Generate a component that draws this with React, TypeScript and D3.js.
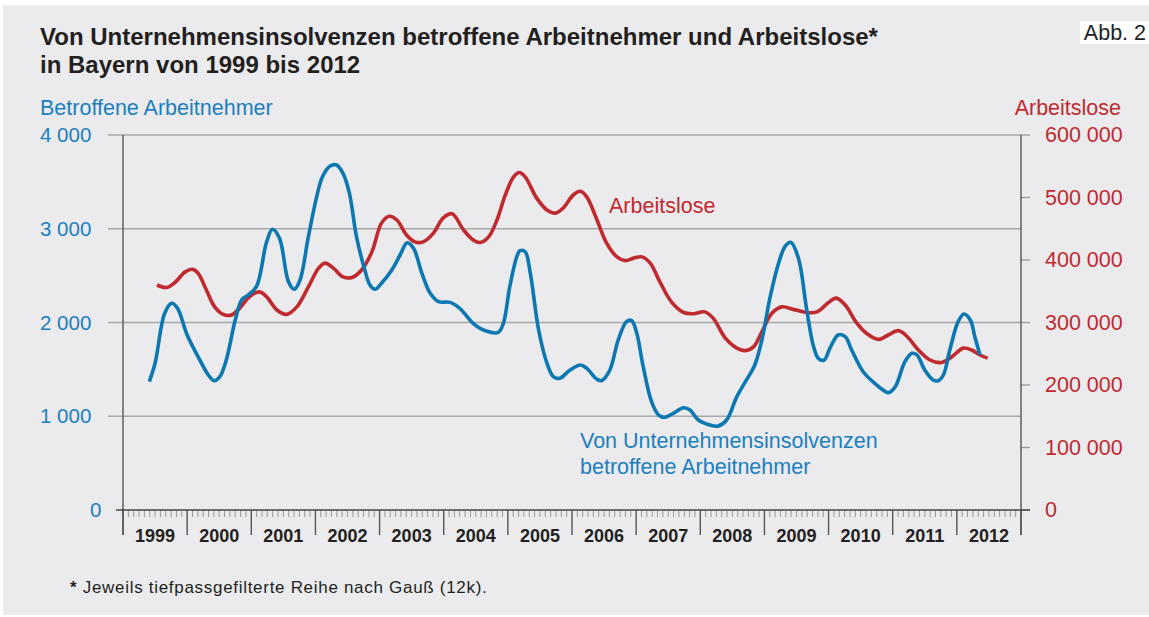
import React, { useEffect, useRef } from 'react';
import * as d3 from 'd3';

// Von Unternehmensinsolvenzen betroffene Arbeitnehmer (linke Achse), Zeit in Dezimaljahren
const blueTime = [
  1999.41, 1999.5, 1999.65, 1999.76, 1999.85, 2000.0, 2000.17, 2000.33, 2000.42, 2000.51,
  2000.61, 2000.75, 2000.85, 2000.95, 2001.08, 2001.24, 2001.33, 2001.44, 2001.58, 2001.67,
  2001.76, 2001.89, 2002.02, 2002.11, 2002.23, 2002.33, 2002.43, 2002.53, 2002.64, 2002.77,
  2002.85, 2002.93, 2003.03, 2003.19, 2003.32, 2003.43, 2003.53, 2003.66, 2003.79, 2003.92,
  2004.1, 2004.25, 2004.46, 2004.62, 2004.85, 2004.93, 2005.03, 2005.14, 2005.19, 2005.27,
  2005.35, 2005.48, 2005.61, 2005.71, 2005.81, 2005.97, 2006.13, 2006.23, 2006.39, 2006.46,
  2006.59, 2006.72, 2006.85, 2006.93, 2007.01, 2007.11, 2007.24, 2007.35, 2007.45, 2007.58,
  2007.74, 2007.84, 2007.97, 2008.15, 2008.28, 2008.41, 2008.57, 2008.72, 2008.85, 2008.96,
  2009.09, 2009.22, 2009.32, 2009.41, 2009.53, 2009.66, 2009.76, 2009.84, 2009.93, 2010.02,
  2010.15, 2010.26, 2010.36, 2010.54, 2010.72, 2010.85, 2010.93, 2011.04, 2011.19, 2011.3,
  2011.38, 2011.5, 2011.63, 2011.71, 2011.79, 2011.89, 2012.02, 2012.11, 2012.21, 2012.28,
  2012.36,
];
const blueValues = [
  1370, 1565, 2098, 2205, 2151, 1867, 1636, 1440, 1379, 1422,
  1600, 2027, 2240, 2293, 2382, 2862, 2994, 2898, 2435, 2354,
  2453, 2915, 3342, 3555, 3669, 3680, 3591, 3378, 2915, 2560,
  2400, 2354, 2418, 2560, 2720, 2851, 2791, 2525, 2311, 2222,
  2215, 2151, 1991, 1920, 1895, 1991, 2382, 2702, 2766, 2755,
  2525, 1920, 1565, 1422, 1405, 1493, 1547, 1511, 1394, 1379,
  1493, 1813, 2009, 2020, 1885, 1529, 1155, 1013, 989, 1031,
  1091, 1067, 960, 907, 896, 960, 1209, 1387, 1547, 1813,
  2275, 2631, 2809, 2855, 2685, 2133, 1760, 1618, 1600, 1725,
  1867, 1849, 1707, 1475, 1351, 1280, 1251, 1315, 1582, 1671,
  1653, 1493, 1387, 1379, 1440, 1707, 2009, 2091, 2027, 1849,
  1653,
];

// Arbeitslose (rechte Achse)
const redTime = [
  1999.53, 1999.68, 1999.81, 1999.97, 2000.09, 2000.17, 2000.3, 2000.43, 2000.56, 2000.69,
  2000.82, 2000.98, 2001.13, 2001.24, 2001.4, 2001.55, 2001.71, 2001.89, 2002.05, 2002.15,
  2002.28, 2002.43, 2002.57, 2002.72, 2002.88, 2003.03, 2003.15, 2003.27, 2003.42, 2003.55,
  2003.68, 2003.84, 2003.99, 2004.13, 2004.31, 2004.46, 2004.57, 2004.7, 2004.83, 2004.96,
  2005.09, 2005.18, 2005.27, 2005.45, 2005.61, 2005.74, 2005.86, 2006.02, 2006.13, 2006.23,
  2006.39, 2006.54, 2006.7, 2006.83, 2006.96, 2007.09, 2007.22, 2007.37, 2007.55, 2007.74,
  2007.89, 2008.07, 2008.2, 2008.39, 2008.57, 2008.7, 2008.83, 2008.96, 2009.11, 2009.27,
  2009.45, 2009.66, 2009.82, 2010.0, 2010.12, 2010.26, 2010.44, 2010.6, 2010.78, 2010.93,
  2011.09, 2011.22, 2011.4, 2011.58, 2011.76, 2011.92, 2012.1, 2012.23, 2012.36, 2012.48,
];
const redValues = [
  360000, 356000, 364000, 381000, 385000, 379000, 352000, 325000, 313000, 312000,
  323000, 342000, 349000, 341000, 320000, 313000, 325000, 357000, 387000, 395000,
  387000, 373000, 372000, 384000, 413000, 459000, 470000, 464000, 440000, 429000,
  429000, 443000, 467000, 474000, 448000, 432000, 428000, 437000, 464000, 504000,
  533000, 540000, 533000, 499000, 480000, 475000, 483000, 504000, 510000, 501000,
  464000, 427000, 405000, 399000, 403000, 405000, 395000, 365000, 333000, 316000,
  314000, 317000, 307000, 275000, 259000, 255000, 261000, 285000, 314000, 325000,
  321000, 316000, 317000, 332000, 339000, 328000, 299000, 282000, 273000, 280000,
  287000, 278000, 256000, 240000, 236000, 245000, 259000, 256000, 248000, 243000,
];

const years = d3.range(1999, 2013);
const leftTicks = [0, 1000, 2000, 3000, 4000];
const rightTicks = [0, 100000, 200000, 300000, 400000, 500000, 600000];

const W = 1149;
const H = 617;
const FONT = '"Liberation Sans", Arial, Helvetica, sans-serif';
const BLUE = '#0b78b1';
const BLUE_TXT = '#1b80bd';
const RED = '#c0292e';
const fmt = (v: number) => d3.format(',')(v).replace(/,/g, ' ');

const App = () => {
  const svgRef = useRef<SVGSVGElement>(null);

  useEffect(() => {
    document.body.style.margin = '0';
    const svg = d3.select(svgRef.current);
    svg.selectAll('*').remove();

    const x = d3.scaleLinear().domain([1999, 2013]).range([123, 1021]);
    const yL = d3.scaleLinear().domain([0, 4000]).range([510, 135]);
    const yR = d3.scaleLinear().domain([0, 600000]).range([510, 135]);

    // background
    svg.append('rect').attr('width', W).attr('height', H).attr('fill', '#fff');
    svg.append('rect').attr('x', 3).attr('y', 5).attr('width', W - 3).attr('height', 610).attr('fill', '#ebebed');

    // Abb. label
    svg.append('rect').attr('x', 1080).attr('y', 21).attr('width', 69).attr('height', 23).attr('fill', '#fff');
    svg.append('text').attr('x', 1146).attr('y', 40).attr('text-anchor', 'end')
      .attr('font-size', 21.5).attr('fill', '#222').text('Abb. 2');

    // title
    const title = svg.append('text').attr('font-size', 24).attr('font-weight', 'bold').attr('fill', '#231f20');
    title.append('tspan').attr('x', 40).attr('y', 45).text('Von Unternehmensinsolvenzen betroffene Arbeitnehmer und Arbeitslose*');
    title.append('tspan').attr('x', 40).attr('y', 73).text('in Bayern von 1999 bis 2012');

    // axis titles
    svg.append('text').attr('x', 40).attr('y', 115).attr('font-size', 21.5).attr('fill', BLUE_TXT).text('Betroffene Arbeitnehmer');
    svg.append('text').attr('x', 1121).attr('y', 115).attr('text-anchor', 'end').attr('font-size', 21.5).attr('fill', RED).text('Arbeitslose');

    // gridlines
    svg.append('g').selectAll('line').data(leftTicks.filter(d => d > 0)).enter().append('line')
      .attr('x1', 108).attr('x2', 1021)
      .attr('y1', d => yL(d)).attr('y2', d => yL(d))
      .attr('stroke', '#a8a8a8').attr('stroke-width', 1.4);

    // left tick labels
    svg.append('g').selectAll('text').data(leftTicks).enter().append('text')
      .attr('x', d => (d === 0 ? 90 : 40)).attr('y', d => yL(d) + 7)
      .attr('font-size', 20.5).attr('fill', BLUE_TXT).text(d => fmt(d));

    // right ticks and labels
    svg.append('g').selectAll('line').data(rightTicks).enter().append('line')
      .attr('x1', 1021).attr('x2', 1030)
      .attr('y1', d => yR(d)).attr('y2', d => yR(d))
      .attr('stroke', '#999').attr('stroke-width', 1.3);
    svg.append('g').selectAll('text').data(rightTicks).enter().append('text')
      .attr('x', 1045).attr('y', d => yR(d) + 7)
      .attr('font-size', 21.5).attr('fill', RED).text(d => fmt(d));

    // monthly minor ticks
    const months = d3.range(0, 14 * 12).filter(m => m % 12 !== 0).map(m => 1999 + m / 12);
    svg.append('g').selectAll('line').data(months).enter().append('line')
      .attr('x1', d => x(d)).attr('x2', d => x(d))
      .attr('y1', 510).attr('y2', 517)
      .attr('stroke', '#9a9a9a').attr('stroke-width', 1);

    // year ticks
    svg.append('g').selectAll('line').data(d3.range(1999, 2014)).enter().append('line')
      .attr('x1', d => x(d)).attr('x2', d => x(d))
      .attr('y1', 510).attr('y2', 535)
      .attr('stroke', '#555').attr('stroke-width', 1.4);

    svg.append('g').selectAll('text').data(years).enter().append('text')
      .attr('x', d => x(d + 0.5)).attr('y', 542).attr('text-anchor', 'middle')
      .attr('font-size', 18).attr('font-weight', 'bold').attr('fill', '#231f20').text(d => d);

    // axes lines
    svg.append('line').attr('x1', 123).attr('x2', 123).attr('y1', 135).attr('y2', 535).attr('stroke', '#555').attr('stroke-width', 1.4);
    svg.append('line').attr('x1', 1021).attr('x2', 1021).attr('y1', 135).attr('y2', 535).attr('stroke', '#555').attr('stroke-width', 1.4);
    svg.append('line').attr('x1', 116).attr('x2', 1030).attr('y1', 510).attr('y2', 510).attr('stroke', '#444').attr('stroke-width', 1.4);

    // lines
    const redData = redTime.map((t, i) => [t, redValues[i]] as [number, number]);
    const blueData = blueTime.map((t, i) => [t, blueValues[i]] as [number, number]);

    svg.append('path').datum(redData)
      .attr('fill', 'none').attr('stroke', RED).attr('stroke-width', 3.6)
      .attr('d', d3.line<[number, number]>().x(d => x(d[0])).y(d => yR(d[1])).curve(d3.curveCatmullRom.alpha(0.5)));

    svg.append('path').datum(blueData)
      .attr('fill', 'none').attr('stroke', BLUE).attr('stroke-width', 3.6)
      .attr('d', d3.line<[number, number]>().x(d => x(d[0])).y(d => yL(d[1])).curve(d3.curveCatmullRom.alpha(0.5)));

    // series labels
    svg.append('text').attr('x', 609).attr('y', 213).attr('font-size', 21.5).attr('fill', RED).text('Arbeitslose');
    const bl = svg.append('text').attr('font-size', 21.5).attr('fill', BLUE_TXT);
    bl.append('tspan').attr('x', 580).attr('y', 448).text('Von Unternehmensinsolvenzen');
    bl.append('tspan').attr('x', 580).attr('y', 474).text('betroffene Arbeitnehmer');

    // footnote
    const fn = svg.append('text').attr('x', 70).attr('y', 593).attr('font-size', 17)
      .attr('letter-spacing', 0.7).attr('fill', '#231f20');
    fn.append('tspan').attr('font-weight', 'bold').text('*');
    fn.append('tspan').text(' Jeweils tiefpassgefilterte Reihe nach Gauß (12k).');
  }, []);

  return (
    <div style={{ position: 'absolute', left: 0, top: 0 }}>
      <svg ref={svgRef} width={W} height={H} style={{ display: 'block', fontFamily: FONT }} />
    </div>
  );
};

export default App;
